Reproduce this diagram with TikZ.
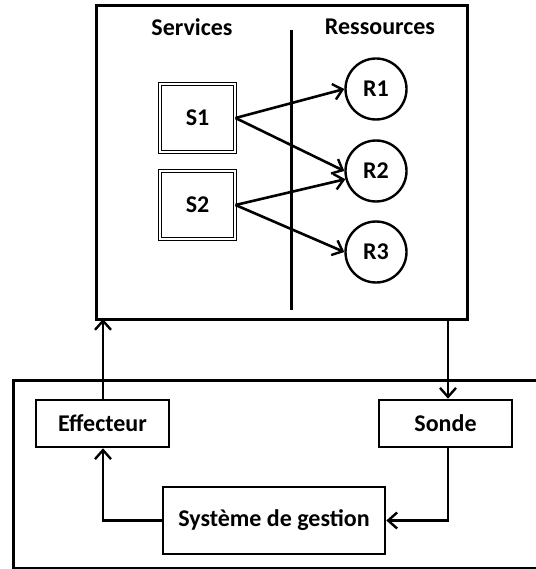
\documentclass[tikz,border=0pt]{standalone}
\usepackage{fontspec}
\setmainfont{Carlito}
\usetikzlibrary{arrows.meta}
\tikzset{
  gras/.style={font=\bfseries\fontsize{24}{28}\selectfont},
  bloc/.style={draw, line width=2.6pt, minimum height=47pt, inner sep=0pt, gras},
  service/.style={draw, double, line width=1pt, double distance=1.8pt, minimum width=75pt, minimum height=68pt, gras},
  ressource/.style={draw, circle, line width=2.4pt, minimum size=61pt, inner sep=0pt, gras},
  fleche/.style={line width=2.6pt, -{Straight Barb[length=9pt,width=16pt,line width=2.4pt]}}
}
\begin{document}
\begin{tikzpicture}[x=1pt, y=-1pt]
    \useasboundingbox (0,0) rectangle (535,569);

    % systeme gere
    \draw[line width=3pt] (96,6) rectangle (467,319);
    \coordinate (hautG) at (103,319);
    \coordinate (hautD) at (448,319);
    \draw[line width=3pt] (291,30) -- (291,310);
    \node[gras] (serv) at (192,27) {Services};
    \node[gras] (ress) at (380,27) {Ressources};

    \node[service] (s1) at (197.5,118) {S1};
    \node[service] (s2) at (197.5,205) {S2};
    \node[ressource] (r1) at (376,89) {R1};
    \node[ressource] (r2) at (376,171) {R2};
    \node[ressource] (r3) at (376,252) {R3};

    \draw[fleche] (s1.east) -- (r1.west);
    \draw[fleche] (s1.east) -- (r2.west);
    \draw[fleche] (s2.east) -- (r2.195);
    \draw[fleche] (s2.east) -- (r3.west);

    % gestionnaire autonome
    \draw[line width=3pt] (540,380) -- (13,380) -- (13,568) -- (540,568);
    \node[bloc, minimum width=133pt] (eff) at (102.5,423.5) {Effecteur};
    \node[bloc, minimum width=133pt] (sonde) at (445.5,423.5) {Sonde};
    \node[bloc, minimum width=222pt, minimum height=67pt] (gest) at (274,520.5) {Système de gestion};

    \draw[fleche] (eff.north -| hautG) -- (hautG);
    \draw[fleche] (hautD) -- (sonde.north -| hautD);
    \draw[fleche] (sonde.south -| hautD) |- (gest.east);
    \draw[fleche] (gest.west) -| (eff.south -| hautG);
\end{tikzpicture}
\end{document}
